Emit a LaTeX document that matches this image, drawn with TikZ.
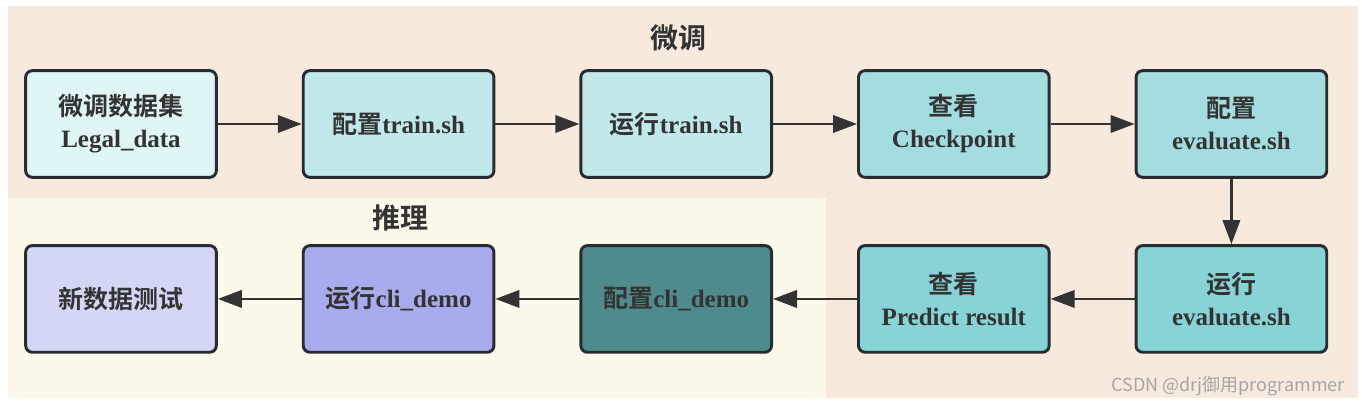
\documentclass[tikz,border=0pt]{standalone}
\usepackage{fontspec}
\setmainfont{Liberation Serif}
\newfontfamily\cjk{Noto Sans CJK SC}[BoldFont={Noto Sans CJK SC Bold}]
\usetikzlibrary{arrows.meta,positioning}

\definecolor{peach}{RGB}{248,233,221}
\definecolor{cream}{RGB}{252,248,234}
\definecolor{txt}{RGB}{51,51,51}
\definecolor{edgec}{RGB}{40,44,48}
\definecolor{fillA}{RGB}{223,245,246}
\definecolor{fillB}{RGB}{193,232,234}
\definecolor{fillC}{RGB}{164,221,224}
\definecolor{fillD}{RGB}{136,211,214}
\definecolor{fillE}{RGB}{79,139,140}
\definecolor{fillF}{RGB}{168,172,238}
\definecolor{fillG}{RGB}{212,214,246}
\definecolor{mark}{RGB}{165,165,165}

\newcommand{\zh}[1]{{\cjk #1}}

\begin{document}
\begin{tikzpicture}[x=0.75pt,y=-0.75pt,
  stepbox/.style={draw=edgec,line width=2.2pt,rounded corners=5pt,
    minimum width=143pt,minimum height=80pt,align=center,text=txt,
    font=\fontsize{18.75}{24}\selectfont\bfseries},
  link/.style={draw=txt,line width=2pt,-{Triangle[length=18pt,width=13pt]}},
  title/.style={text=txt,font=\fontsize{21}{24}\selectfont\bfseries\cjk},
  node distance=63pt]
\useasboundingbox (0,0) rectangle (1362,406);
% regions
\fill[peach] (8,6) rectangle (1358,398);
\fill[cream] (8,198) rectangle (826,398);
\node[title] (ft) at (678,38) {微调};
\node[title] (inf) at (400,218) {推理};

% fine-tune row
\node[stepbox,fill=fillA] (data) at (121,124) {\zh{微调数据集}\\Legal\_data};
\node[stepbox,fill=fillB,right=of data] (cfgtrain) {\zh{配置}train.sh};
\node[stepbox,fill=fillB,right=of cfgtrain] (runtrain) {\zh{运行}train.sh};
\node[stepbox,fill=fillC,right=of runtrain] (ckpt) {\zh{查看}\\Checkpoint};
\node[stepbox,fill=fillC,right=of ckpt] (cfgeval) {\zh{配置}\\evaluate.sh};

% second row, right to left
\node[stepbox,fill=fillD,below=49pt of cfgeval] (runeval) {\zh{运行}\\evaluate.sh};
\node[stepbox,fill=fillD,left=of runeval] (pred) {\zh{查看}\\Predict result};
\node[stepbox,fill=fillE,left=of pred] (cfgcli) {\zh{配置}cli\_demo};
\node[stepbox,fill=fillF,left=of cfgcli] (runcli) {\zh{运行}cli\_demo};
\node[stepbox,fill=fillG,left=of runcli] (test) {\zh{新数据测试}};

\draw[link] (data) -- (cfgtrain);
\draw[link] (cfgtrain) -- (runtrain);
\draw[link] (runtrain) -- (ckpt);
\draw[link] (ckpt) -- (cfgeval);
\draw[link] (cfgeval) -- (runeval);
\draw[link] (runeval) -- (pred);
\draw[link] (pred) -- (cfgcli);
\draw[link] (cfgcli) -- (runcli);
\draw[link] (runcli) -- (test);

\node[text=mark,font=\fontsize{13.5}{15}\selectfont\cjk] (wm) at (1228,386) {CSDN @drj御用programmer};
\end{tikzpicture}
\end{document}
